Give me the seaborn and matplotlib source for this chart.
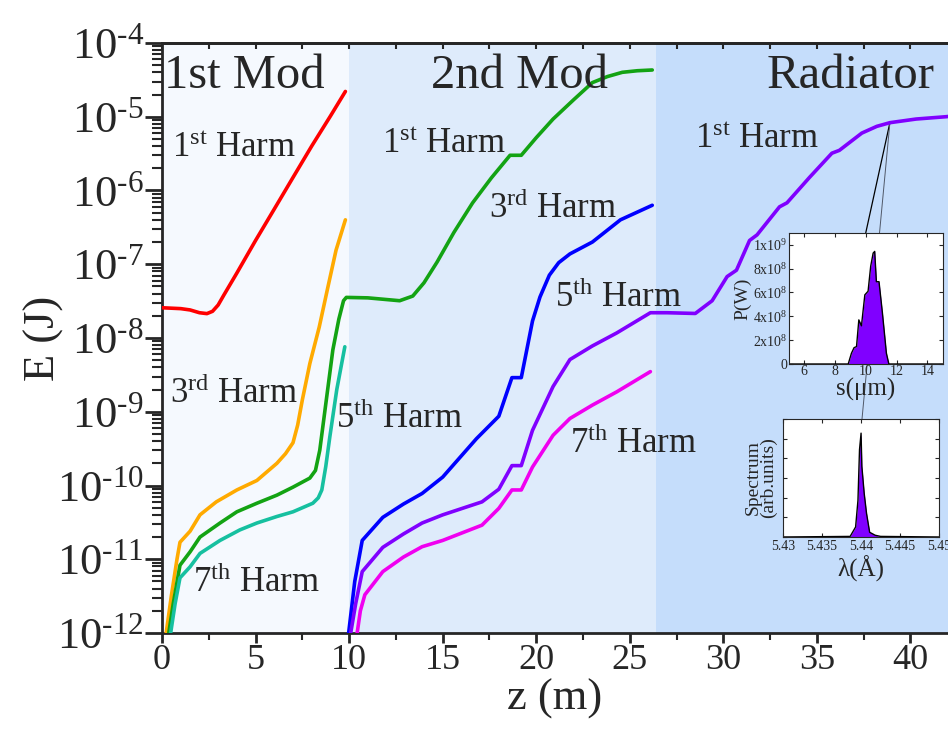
import numpy as np
import pandas as pd
import seaborn as sns
import matplotlib
matplotlib.use("Agg")
import matplotlib.pyplot as plt
from matplotlib.ticker import FixedLocator, FuncFormatter, LogLocator, NullFormatter
from matplotlib.patches import ConnectionPatch

# --- curve data (z in m, energy in J) ---
z_red = [0, 1, 1.5, 2, 2.4, 2.7, 3.0, 3.3, 4, 5, 6, 7, 8, 9, 9.8]
e_red = [2.57e-8, 2.5e-8, 2.4e-8, 2.2e-8, 2.14e-8, 2.3e-8, 2.8e-8, 3.8e-8, 7.6e-8,
         2.1e-7, 5.6e-7, 1.5e-6, 4.0e-6, 1.02e-5, 2.2e-5]

z_orange = [0.1, 0.5, 0.8, 0.96, 1.5, 2.03, 2.9, 4.0, 5.07, 6.14, 6.6, 7.0, 7.25, 7.5,
            7.9, 8.4, 8.85, 9.3, 9.8]
e_orange = [6e-13, 3.2e-12, 1e-11, 1.7e-11, 2.4e-11, 4.0e-11, 6.0e-11, 8.7e-11,
            1.17e-10, 2.0e-10, 2.7e-10, 3.8e-10, 6.6e-10, 1.45e-9, 4.5e-9, 1.4e-8,
            4.7e-8, 1.55e-7, 4.0e-7]

z_green = [0.3, 0.6, 0.96, 1.5, 2.03, 3.1, 4.0, 5.07, 6.14, 7.0, 7.9, 8.2, 8.43, 8.75,
           9.13, 9.45, 9.7, 9.85, 11.0, 12.7, 13.4, 14.0, 14.7, 15.6, 16.6, 17.6, 18.6,
           19.2, 20.0, 20.9, 22.0, 23.0, 23.8, 24.6, 25.4, 26.2]
e_green = [7.9e-13, 2.5e-12, 8.3e-12, 1.26e-11, 2.0e-11, 3.1e-11, 4.4e-11, 5.75e-11,
           7.4e-11, 9.5e-11, 1.26e-10, 1.6e-10, 3.0e-10, 1.26e-9, 6.9e-9, 1.8e-8, 3.2e-8,
           3.55e-8, 3.5e-8, 3.2e-8, 3.7e-8, 5.6e-8, 1.07e-7, 2.7e-7, 6.8e-7, 1.48e-6,
           3.0e-6, 3.0e-6, 5.2e-6, 9.3e-6, 1.7e-5, 2.9e-5, 3.5e-5, 4.0e-5, 4.2e-5, 4.3e-5]

z_teal = [0.4, 0.7, 0.96, 1.5, 2.03, 3.1, 4.16, 5.07, 6.14, 7.0, 8.06, 8.35, 8.54, 8.75,
          8.97, 9.34, 9.77]
e_teal = [7.9e-13, 2.5e-12, 5.6e-12, 7.9e-12, 1.2e-11, 1.8e-11, 2.5e-11, 3.1e-11,
          3.8e-11, 4.4e-11, 5.75e-11, 6.8e-11, 8.7e-11, 1.8e-10, 4.6e-10, 2.0e-9, 7.6e-9]

z_blue = [9.95, 10.3, 10.7, 11.8, 12.9, 13.9, 15.0, 16.8, 18.0, 18.7, 19.2, 19.8,
          20.2, 20.7, 21.2, 21.8, 23.0, 24.5, 26.2]
e_blue = [8.9e-13, 5e-12, 1.8e-11, 3.7e-11, 5.6e-11, 7.8e-11, 1.3e-10, 4.3e-10,
          8.7e-10, 2.9e-9, 2.9e-9, 1.7e-8, 3.6e-8, 7.1e-8, 1.05e-7, 1.38e-7, 2.0e-7,
          4.0e-7, 6.3e-7]

z_purple = [10.05, 10.35, 10.7, 11.8, 12.9, 13.9, 15.0, 17.1, 18.0, 18.7, 19.2, 19.8,
            20.9, 21.8, 23.0, 24.3, 26.1, 27.0, 28.5, 29.4, 30.2, 30.7, 31.4, 31.8,
            33.0, 33.4, 34.6, 35.8, 36.2, 37.4, 38.2, 38.9, 40.3, 41.9, 42.2]
e_purple = [8.9e-13, 2.5e-12, 6.8e-12, 1.45e-11, 2.2e-11, 3.1e-11, 4.0e-11, 6.0e-11,
            8.9e-11, 1.86e-10, 1.86e-10, 5.6e-10, 2.2e-9, 5.1e-9, 7.8e-9, 1.17e-8,
            2.2e-8, 2.2e-8, 2.15e-8, 3.2e-8, 6.8e-8, 8.3e-8, 2.1e-7, 2.5e-7, 6.0e-7,
            6.8e-7, 1.5e-6, 3.2e-6, 3.5e-6, 6.0e-6, 7.4e-6, 8.3e-6, 9.3e-6, 1.0e-5, 1.02e-5]

z_magenta = [10.4, 10.6, 10.84, 11.8, 12.9, 13.9, 15.0, 17.1, 18.0, 18.7, 19.2, 19.8,
             20.9, 21.8, 23.0, 24.3, 26.1]
e_magenta = [8.9e-13, 2.0e-12, 3.3e-12, 6.8e-12, 1.07e-11, 1.48e-11, 1.8e-11, 2.9e-11,
             4.9e-11, 8.7e-11, 8.7e-11, 1.78e-10, 4.8e-10, 8.1e-10, 1.23e-9, 1.86e-9, 3.5e-9]

# section boundaries (m)
sections = [(0, 10, "#f5f9fe"), (10, 26.4, "#deebfb"), (26.4, 42, "#c5ddfb")]

# inset 1: power profile
s_um = [5, 8.86, 9.07, 9.24, 9.40, 9.55, 9.72, 9.94, 10.15, 10.32, 10.48, 10.58, 10.69,
        10.86, 11.08, 11.34, 11.5, 15]
p_w = [0, 0, 0.09e9, 0.137e9, 0.146e9, 0.37e9, 0.32e9, 0.58e9, 0.61e9, 0.82e9, 0.93e9,
       0.944e9, 0.69e9, 0.69e9, 0.43e9, 0.09e9, 0, 0]

# inset 2: spectrum
lam = [5.43, 5.4386, 5.4393, 5.4396, 5.4398, 5.4400, 5.4401, 5.4404, 5.4407, 5.4411,
       5.4418, 5.4425, 5.45]
spec = [0, 0.005, 0.085, 0.31, 0.74, 0.88, 0.6, 0.37, 0.2, 0.04, 0.015, 0.005, 0]

sns.set_style("ticks")
plt.rcParams['font.family'] = ['Liberation Serif', 'DejaVu Serif']
plt.rcParams['mathtext.fontset'] = 'custom'
plt.rcParams['mathtext.rm'] = 'Liberation Serif'
plt.rcParams['mathtext.it'] = 'Liberation Serif:italic'
plt.rcParams['mathtext.bf'] = 'Liberation Serif:bold'

fig = plt.figure(figsize=(9.48, 7.33), dpi=100)
ax = fig.add_axes([0.1709, 0.1364, 0.829, 0.805])

for x0, x1, c in sections:
    ax.axvspan(x0, x1, color=c, lw=0, zorder=0)

lw = 2.6
curves = [(z_red, e_red, "#ff0000"), (z_orange, e_orange, "#ffaa00"),
          (z_green, e_green, "#13a313"), (z_teal, e_teal, "#16c0a0"),
          (z_blue, e_blue, "#0000ff"), (z_purple, e_purple, "#8000ff"),
          (z_magenta, e_magenta, "#f000f0")]
for zz, ee, c in curves:
    sns.lineplot(x=zz, y=ee, color=c, lw=lw, ax=ax, zorder=3)

ax.set_yscale("log")
ax.set_xlim(0, 42)
ax.set_ylim(1e-12, 1e-4)
ax.yaxis.set_major_locator(LogLocator(base=10, numticks=20))
ax.yaxis.set_minor_locator(LogLocator(base=10, subs=np.arange(2, 10), numticks=100))
ax.yaxis.set_minor_formatter(NullFormatter())
ax.yaxis.set_major_formatter(FuncFormatter(
    lambda v, p: r"$\mathrm{10}^{\text{-}\mathrm{%d}}$" % abs(int(round(np.log10(v))))))
ax.xaxis.set_major_locator(FixedLocator([0, 5, 10, 15, 20, 25, 30, 35, 40]))
ax.xaxis.set_minor_locator(FixedLocator([2.5, 7.5, 12.5, 17.5, 22.5, 27.5, 32.5, 37.5]))
ax.tick_params(axis='y', which='major', direction='out', length=12, width=2, labelsize=32, pad=1)
ax.tick_params(axis='y', which='minor', direction='out', length=7, width=1.5)
ax.tick_params(axis='x', which='major', direction='out', length=7, width=2, labelsize=26, pad=1)
ax.tick_params(axis='x', which='minor', direction='out', length=5, width=1.5)
for sp in ['left', 'bottom', 'top']:
    ax.spines[sp].set_linewidth(2)
ax.spines['right'].set_visible(False)

top = ax.secondary_xaxis('top')
top.xaxis.set_major_locator(FixedLocator([0, 5, 10, 15, 20, 25, 30, 35, 40]))
top.xaxis.set_minor_locator(FixedLocator([2.5, 7.5, 12.5, 17.5, 22.5, 27.5, 32.5, 37.5]))
top.tick_params(which='both', direction='in', length=4, width=1.5, labeltop=False)
top.spines['top'].set_linewidth(2)

ax.set_xlabel("z (m)", fontsize=32)
ax.xaxis.set_label_coords(0.5, -0.077)
ax.set_ylabel("E (J)", fontsize=32)
ax.yaxis.set_label_coords(-0.125, 0.5)

# section titles
ax.text(0.12, 10**-4.61, "1st Mod", fontsize=35, zorder=5)
ax.text(14.4, 10**-4.61, "2nd Mod", fontsize=35, zorder=5)
ax.text(32.3, 10**-4.61, "Radiator", fontsize=35, zorder=5)

hf = 25
labels = [(0.53, 10**-5.55, "1", "st"), (0.43, 10**-8.88, "3", "rd"), (1.66, 10**-11.44, "7", "th"),
          (9.3, 10**-9.22, "5", "th"), (11.75, 10**-5.49, "1", "st"), (17.5, 10**-6.37, "3", "rd"),
          (21.0, 10**-7.58, "5", "th"), (21.8, 10**-9.56, "7", "th"), (28.5, 10**-5.42, "1", "st")]
for x, y, n, suf in labels:
    ax.text(x, y, n + r"$^{\mathrm{" + suf + "}}$ Harm", fontsize=hf, zorder=5)

# inset 1: P(W) vs s
ins1 = fig.add_axes([0.832, 0.5034, 0.1625, 0.179])
ins1.fill_between(s_um, p_w, color="#8000ff", lw=0)
sns.lineplot(x=s_um, y=p_w, color="black", lw=1.0, ax=ins1)
ins1.set_xlim(5, 15)
ins1.set_ylim(0, 1.1e9)
ins1.set_xticks([6, 8, 10, 12, 14])
ins1.set_yticks([0, 2e8, 4e8, 6e8, 8e8, 1e9])
ins1.set_yticklabels(["0", r"$2\mathrm{x}10^8$", r"$4\mathrm{x}10^8$", r"$6\mathrm{x}10^8$",
                      r"$8\mathrm{x}10^8$", r"$1\mathrm{x}10^9$"])
ins1.tick_params(direction='in', top=True, right=True, labelsize=10, length=3, pad=1)
ins1.set_xlabel("s(μm)", fontsize=18, labelpad=0)
ins1.set_ylabel("P(W)", fontsize=14, labelpad=1)
ins1.set_facecolor("white")

# inset 2: spectrum
ins2 = fig.add_axes([0.826, 0.2674, 0.1646, 0.161])
ins2.fill_between(lam, spec, color="#8000ff", lw=0)
sns.lineplot(x=lam, y=spec, color="black", lw=1.0, ax=ins2)
ins2.set_xlim(5.43, 5.45)
ins2.set_ylim(0, 1)
ins2.set_xticks([5.43, 5.435, 5.44, 5.445, 5.45])
ins2.set_xticklabels(["5.43", "5.435", "5.44", "5.445", "5.45"])
ins2.set_yticks(np.arange(0, 1.01, 1 / 6))
ins2.set_yticklabels([])
ins2.tick_params(direction='in', top=True, right=True, labelsize=10, length=3, pad=2)
ins2.set_xlabel("λ(Å)", fontsize=18, labelpad=2)
ins2.set_ylabel("Spectrum\n(arb.units)", fontsize=14, labelpad=2, linespacing=0.9)
ins2.set_facecolor("white")

# connection lines from the radiator curve to the insets
con1 = ConnectionPatch(xyA=(38.9, 8.3e-6), coordsA=ax.transData, xyB=(0.5, 1.0),
                       coordsB=ins1.transAxes, color="black", lw=0.9)
con2 = ConnectionPatch(xyA=(38.9, 8.3e-6), coordsA=ax.transData, xyB=(0.506, 1.0),
                       coordsB=ins2.transAxes, color="#505868", lw=0.7)
ax.add_artist(con1)
ax.add_artist(con2)

plt.savefig("out.png", dpi=100)
